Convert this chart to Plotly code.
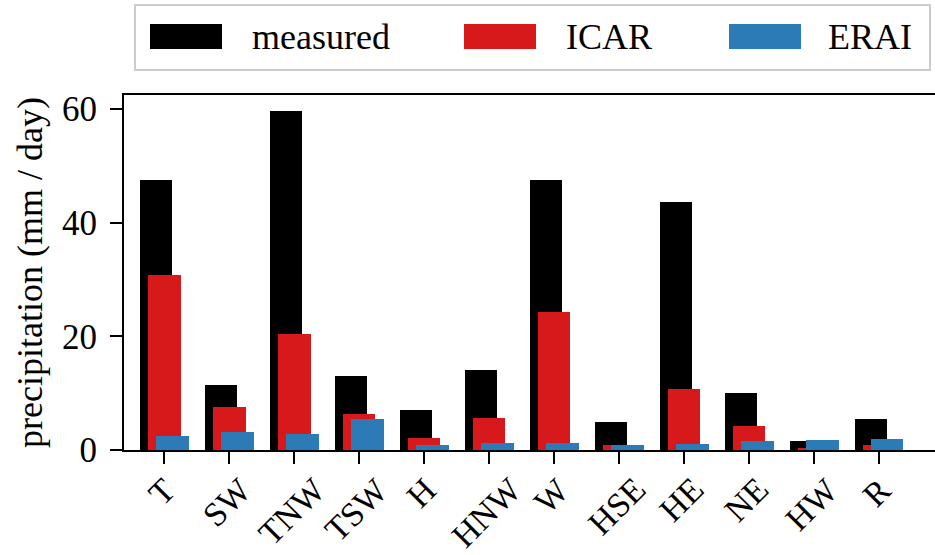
import plotly.graph_objects as go

categories = ["T", "SW", "TNW", "TSW", "H", "HNW", "W", "HSE", "HE", "NE", "HW", "R"]
measured = [47.5, 11.5, 59.7, 13.1, 7.1, 14.0, 47.6, 5.0, 43.7, 10.1, 1.5, 5.4]
icar = [30.8, 7.6, 20.4, 6.4, 2.1, 5.7, 24.3, 0.9, 10.7, 4.2, 0.4, 0.9]
erai = [2.4, 3.1, 2.8, 5.5, 0.9, 1.3, 1.3, 0.9, 1.1, 1.6, 1.8, 2.0]

series_names = ["measured", "ICAR", "ERAI"]
series_colors = ["#000000", "#d7191c", "#2c7bb6"]
series_offsets = [-0.375, -0.25, -0.125]

W, H = 935, 555
L, R, T, B = 124, 0, 95, 105
FONT = "Liberation Serif"
FS = 36
TFS = 34

x_idx = list(range(len(categories)))
fig = go.Figure()
for name, vals, col, off in zip(series_names, [measured, icar, erai], series_colors, series_offsets):
    fig.add_trace(go.Bar(x=x_idx, y=vals, name=name, marker=dict(color=col, line=dict(width=0)),
                         width=0.5, offset=off, showlegend=False))

pw = W - L - R
ph = H - T - B
def px(x):
    return (x - L) / pw
def py(y):
    return (H - B - y) / ph

# manual legend (wide patches like the reference)
shapes = [dict(type="rect", xref="paper", yref="paper", x0=px(135), x1=px(930), y0=py(70), y1=py(5),
               line=dict(color="#cccccc", width=2), fillcolor="rgba(255,255,255,0.8)", layer="above")]
annotations = []
patch_x = [150, 464, 729]
text_x = [250, 564, 826]
for nm, col, p0, tx in zip(series_names, series_colors, patch_x, text_x):
    shapes.append(dict(type="rect", xref="paper", yref="paper", x0=px(p0), x1=px(p0 + 72),
                       y0=py(49), y1=py(24), fillcolor=col, line=dict(width=0), layer="above"))
    annotations.append(dict(xref="paper", yref="paper", x=px(tx), y=py(37), text=nm, showarrow=False,
                            xanchor="left", yanchor="middle", font=dict(family=FONT, size=FS, color="black")))

# rotated category labels, centred under each tick (matplotlib-style)
for i, cat in zip(x_idx, categories):
    annotations.append(dict(xref="x", yref="paper", x=i - 0.04, y=py(468), text=cat, showarrow=False,
                            textangle=-45, xanchor="center", yanchor="top",
                            font=dict(family=FONT, size=TFS, color="black")))

fig.update_layout(
    width=W, height=H, margin=dict(l=L, r=R, t=T, b=B, autoexpand=False),
    plot_bgcolor="white", paper_bgcolor="white",
    barmode="overlay", bargap=0,
    font=dict(family=FONT, size=FS, color="black"),
    shapes=shapes, annotations=annotations,
    xaxis=dict(range=[-0.62, 11.86], tickmode="array", tickvals=x_idx, ticktext=categories,
               showticklabels=False, showline=True, linecolor="black", linewidth=2, mirror=True,
               ticks="outside", ticklen=12, tickwidth=2, tickcolor="black", showgrid=False,
               zeroline=False, automargin=False),
    yaxis=dict(range=[0, 62.5], tickvals=[0, 20, 40, 60], showline=True, linecolor="black", linewidth=2,
               ticks="outside", ticklen=12, tickwidth=2, tickcolor="black", showgrid=False, zeroline=False,
               automargin=False, ticklabelstandoff=6,
               title=dict(text="precipitation (mm / day)", font=dict(family=FONT, size=FS), standoff=8),
               tickfont=dict(family=FONT, size=35)),
)

fig.write_html("out.html")
